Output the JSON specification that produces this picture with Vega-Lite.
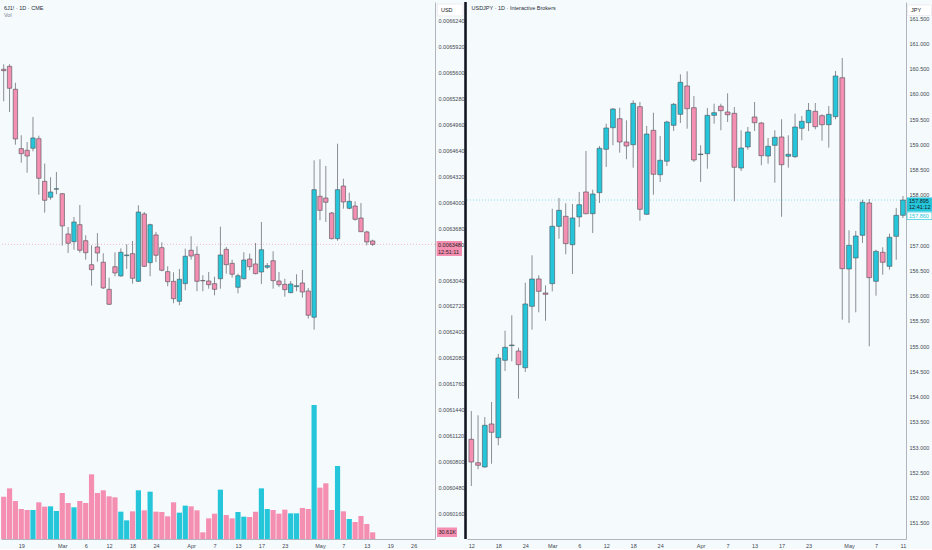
{
  "$schema": "https://vega.github.io/schema/vega-lite/v6.json",
  "background": "#f5fbfd",
  "padding": 0,
  "spacing": 32,
  "bounds": "flush",
  "config": {
    "view": {"stroke": null},
    "font": "Liberation Sans",
    "scale": {"continuousPadding": 0},
    "axis": {"labelFont": "Liberation Sans", "labelColor": "#434651", "domainColor": "#b2b5be", "ticks": false, "grid": false, "labelOverlap": false, "labelFlush": false, "labelBound": false, "tickCount": 100}
  },
  "datasets": {
    "left": [
      {"i":0,"o":0.0065640,"h":0.0065702,"l":0.0065246,"c":0.0065623,"v":194.4},
      {"i":1,"o":0.0065677,"h":0.0065702,"l":0.0065113,"c":0.0065406,"v":232.6},
      {"i":2,"o":0.0065394,"h":0.0065475,"l":0.0064710,"c":0.0064780,"v":174.5},
      {"i":3,"o":0.0064661,"h":0.0064826,"l":0.0064488,"c":0.0064599,"v":137.7},
      {"i":4,"o":0.0064641,"h":0.0064743,"l":0.0064364,"c":0.0064570,"v":133.2},
      {"i":5,"o":0.0064666,"h":0.0065052,"l":0.0064628,"c":0.0064793,"v":133.2},
      {"i":6,"o":0.0064784,"h":0.0064821,"l":0.0064093,"c":0.0064295,"v":168.4},
      {"i":7,"o":0.0064258,"h":0.0064476,"l":0.0063871,"c":0.0064024,"v":148.5},
      {"i":8,"o":0.0064061,"h":0.0064308,"l":0.0064031,"c":0.0064126,"v":150.0},
      {"i":9,"o":0.0064160,"h":0.0064373,"l":0.0064098,"c":0.0064167,"v":128.6},
      {"i":10,"o":0.0064105,"h":0.0064114,"l":0.0063464,"c":0.0063707,"v":211.2},
      {"i":11,"o":0.0063608,"h":0.0063694,"l":0.0063373,"c":0.0063493,"v":165.3},
      {"i":12,"o":0.0063513,"h":0.0063818,"l":0.0063414,"c":0.0063756,"v":145.4},
      {"i":13,"o":0.0063723,"h":0.0063966,"l":0.0063377,"c":0.0063407,"v":174.5},
      {"i":14,"o":0.0063525,"h":0.0063592,"l":0.0063291,"c":0.0063377,"v":165.3},
      {"i":15,"o":0.0063229,"h":0.0063468,"l":0.0062970,"c":0.0063167,"v":296.9},
      {"i":16,"o":0.0063448,"h":0.0063620,"l":0.0063266,"c":0.0063373,"v":211.2},
      {"i":17,"o":0.0063259,"h":0.0063370,"l":0.0062929,"c":0.0062942,"v":223.5},
      {"i":18,"o":0.0062925,"h":0.0063069,"l":0.0062732,"c":0.0062740,"v":195.9},
      {"i":19,"o":0.0063204,"h":0.0063382,"l":0.0063086,"c":0.0063127,"v":191.3},
      {"i":20,"o":0.0063090,"h":0.0063431,"l":0.0063081,"c":0.0063382,"v":125.5},
      {"i":21,"o":0.0063340,"h":0.0063481,"l":0.0063176,"c":0.0063349,"v":85.7},
      {"i":22,"o":0.0063365,"h":0.0063522,"l":0.0062995,"c":0.0063061,"v":127.0},
      {"i":23,"o":0.0063024,"h":0.0063962,"l":0.0063016,"c":0.0063879,"v":223.5},
      {"i":24,"o":0.0063855,"h":0.0063879,"l":0.0063201,"c":0.0063209,"v":131.6},
      {"i":25,"o":0.0063254,"h":0.0063735,"l":0.0063086,"c":0.0063723,"v":217.3},
      {"i":26,"o":0.0063596,"h":0.0063633,"l":0.0063262,"c":0.0063345,"v":125.5},
      {"i":27,"o":0.0063439,"h":0.0063505,"l":0.0063148,"c":0.0063160,"v":124.0},
      {"i":28,"o":0.0063143,"h":0.0063209,"l":0.0062962,"c":0.0063019,"v":104.1},
      {"i":29,"o":0.0063024,"h":0.0063135,"l":0.0062753,"c":0.0062809,"v":168.4},
      {"i":30,"o":0.0062777,"h":0.0063176,"l":0.0062728,"c":0.0063049,"v":120.9},
      {"i":31,"o":0.0062995,"h":0.0063427,"l":0.0062913,"c":0.0063333,"v":153.1},
      {"i":32,"o":0.0063407,"h":0.0063580,"l":0.0063291,"c":0.0063336,"v":150.0},
      {"i":33,"o":0.0063357,"h":0.0063456,"l":0.0062901,"c":0.0063024,"v":131.6},
      {"i":34,"o":0.0063034,"h":0.0063098,"l":0.0062901,"c":0.0063029,"v":30.6},
      {"i":35,"o":0.0063028,"h":0.0063139,"l":0.0062933,"c":0.0062982,"v":94.9},
      {"i":36,"o":0.0062995,"h":0.0063081,"l":0.0062851,"c":0.0062925,"v":116.3},
      {"i":37,"o":0.0063056,"h":0.0063698,"l":0.0062933,"c":0.0063349,"v":226.5},
      {"i":38,"o":0.0063419,"h":0.0063448,"l":0.0063118,"c":0.0063229,"v":110.2},
      {"i":39,"o":0.0063246,"h":0.0063291,"l":0.0063069,"c":0.0063111,"v":94.9},
      {"i":40,"o":0.0062950,"h":0.0063118,"l":0.0062876,"c":0.0063093,"v":124.0},
      {"i":41,"o":0.0063056,"h":0.0063382,"l":0.0063046,"c":0.0063287,"v":102.5},
      {"i":42,"o":0.0063299,"h":0.0063365,"l":0.0063160,"c":0.0063204,"v":101.0},
      {"i":43,"o":0.0063238,"h":0.0063497,"l":0.0063111,"c":0.0063118,"v":125.5},
      {"i":44,"o":0.0063139,"h":0.0063756,"l":0.0062991,"c":0.0063414,"v":232.6},
      {"i":45,"o":0.0063197,"h":0.0063250,"l":0.0063176,"c":0.0063217,"v":137.7},
      {"i":46,"o":0.0063278,"h":0.0063394,"l":0.0062933,"c":0.0063032,"v":133.2},
      {"i":47,"o":0.0063028,"h":0.0063139,"l":0.0062954,"c":0.0062982,"v":116.3},
      {"i":48,"o":0.0062987,"h":0.0063056,"l":0.0062834,"c":0.0062921,"v":134.7},
      {"i":49,"o":0.0062884,"h":0.0063028,"l":0.0062876,"c":0.0062991,"v":117.8},
      {"i":50,"o":0.0062958,"h":0.0063111,"l":0.0062901,"c":0.0062970,"v":117.8},
      {"i":51,"o":0.0063003,"h":0.0063164,"l":0.0062822,"c":0.0062892,"v":142.3},
      {"i":52,"o":0.0062905,"h":0.0062942,"l":0.0062563,"c":0.0062605,"v":137.7},
      {"i":53,"o":0.0062580,"h":0.0064517,"l":0.0062427,"c":0.0064155,"v":615.3},
      {"i":54,"o":0.0064073,"h":0.0064530,"l":0.0063777,"c":0.0063900,"v":235.7},
      {"i":55,"o":0.0064052,"h":0.0064447,"l":0.0063756,"c":0.0063999,"v":255.6},
      {"i":56,"o":0.0063867,"h":0.0063879,"l":0.0063542,"c":0.0063550,"v":133.2},
      {"i":57,"o":0.0063550,"h":0.0064722,"l":0.0063525,"c":0.0064155,"v":335.2},
      {"i":58,"o":0.0064200,"h":0.0064290,"l":0.0063920,"c":0.0064003,"v":127.0},
      {"i":59,"o":0.0063925,"h":0.0064118,"l":0.0063913,"c":0.0064011,"v":91.8},
      {"i":60,"o":0.0063953,"h":0.0064011,"l":0.0063772,"c":0.0063789,"v":78.1},
      {"i":61,"o":0.0063805,"h":0.0063990,"l":0.0063633,"c":0.0063636,"v":105.6},
      {"i":62,"o":0.0063633,"h":0.0063649,"l":0.0063468,"c":0.0063509,"v":68.9},
      {"i":63,"o":0.0063522,"h":0.0063538,"l":0.0063460,"c":0.0063480,"v":30.61}
    ],
    "right": [
      {"i":0,"o":153.158,"h":153.718,"l":152.233,"c":152.708},
      {"i":1,"o":152.694,"h":153.633,"l":152.564,"c":152.643},
      {"i":2,"o":152.609,"h":153.599,"l":152.595,"c":153.435},
      {"i":3,"o":153.461,"h":153.896,"l":152.674,"c":153.296},
      {"i":4,"o":153.189,"h":154.847,"l":153.039,"c":154.767},
      {"i":5,"o":154.722,"h":155.308,"l":154.510,"c":154.979},
      {"i":6,"o":155.013,"h":155.613,"l":154.702,"c":155.025},
      {"i":7,"o":154.906,"h":154.971,"l":153.962,"c":154.635},
      {"i":8,"o":154.575,"h":156.259,"l":154.490,"c":155.837},
      {"i":9,"o":155.791,"h":156.801,"l":155.328,"c":156.332},
      {"i":10,"o":156.332,"h":156.405,"l":155.672,"c":156.088},
      {"i":11,"o":156.055,"h":156.207,"l":155.506,"c":156.029},
      {"i":12,"o":156.239,"h":157.724,"l":156.088,"c":157.375},
      {"i":13,"o":157.375,"h":157.936,"l":157.130,"c":157.692},
      {"i":14,"o":157.573,"h":157.831,"l":156.821,"c":157.031},
      {"i":15,"o":157.011,"h":157.817,"l":156.431,"c":157.540},
      {"i":16,"o":157.560,"h":158.055,"l":157.362,"c":157.803},
      {"i":17,"o":158.055,"h":158.867,"l":157.613,"c":157.625},
      {"i":18,"o":157.625,"h":158.100,"l":157.243,"c":158.015},
      {"i":19,"o":158.041,"h":158.966,"l":157.837,"c":158.920},
      {"i":20,"o":158.900,"h":159.407,"l":158.550,"c":159.322},
      {"i":21,"o":159.328,"h":159.718,"l":158.979,"c":159.698},
      {"i":22,"o":159.506,"h":159.724,"l":158.833,"c":159.045},
      {"i":23,"o":159.045,"h":159.474,"l":158.702,"c":158.966},
      {"i":24,"o":158.991,"h":159.870,"l":158.536,"c":159.811},
      {"i":25,"o":159.744,"h":159.837,"l":157.486,"c":157.712},
      {"i":26,"o":157.613,"h":159.362,"l":157.605,"c":159.203},
      {"i":27,"o":159.276,"h":159.625,"l":158.001,"c":158.405},
      {"i":28,"o":158.397,"h":159.164,"l":158.253,"c":158.682},
      {"i":29,"o":158.663,"h":159.466,"l":158.569,"c":159.441},
      {"i":30,"o":159.375,"h":159.817,"l":159.263,"c":159.791},
      {"i":31,"o":159.593,"h":160.385,"l":159.421,"c":160.227},
      {"i":32,"o":160.154,"h":160.445,"l":159.308,"c":159.704},
      {"i":33,"o":159.724,"h":159.956,"l":158.649,"c":158.688},
      {"i":34,"o":158.795,"h":158.979,"l":158.253,"c":158.807},
      {"i":35,"o":158.813,"h":159.718,"l":158.516,"c":159.573},
      {"i":36,"o":159.573,"h":159.803,"l":159.407,"c":159.625},
      {"i":37,"o":159.752,"h":159.803,"l":159.276,"c":159.665},
      {"i":38,"o":159.639,"h":160.009,"l":159.441,"c":159.585},
      {"i":39,"o":159.613,"h":159.738,"l":157.870,"c":158.544},
      {"i":40,"o":158.530,"h":159.276,"l":158.470,"c":158.926},
      {"i":41,"o":158.946,"h":159.342,"l":158.892,"c":159.243},
      {"i":42,"o":159.540,"h":159.837,"l":159.263,"c":159.427},
      {"i":43,"o":159.421,"h":159.441,"l":158.583,"c":158.773},
      {"i":44,"o":158.767,"h":159.124,"l":158.615,"c":158.960},
      {"i":45,"o":158.979,"h":159.276,"l":158.239,"c":159.138},
      {"i":46,"o":159.144,"h":159.494,"l":157.565,"c":158.595},
      {"i":47,"o":158.762,"h":159.177,"l":158.536,"c":158.801},
      {"i":48,"o":158.754,"h":159.605,"l":158.728,"c":159.342},
      {"i":49,"o":159.316,"h":159.560,"l":159.078,"c":159.455},
      {"i":50,"o":159.427,"h":159.817,"l":159.263,"c":159.672},
      {"i":51,"o":159.653,"h":159.817,"l":159.296,"c":159.348},
      {"i":52,"o":159.566,"h":159.593,"l":159.070,"c":159.387},
      {"i":53,"o":159.387,"h":159.758,"l":158.932,"c":159.593},
      {"i":54,"o":159.546,"h":160.451,"l":159.494,"c":160.352},
      {"i":55,"o":160.318,"h":160.708,"l":155.526,"c":156.536},
      {"i":56,"o":156.530,"h":157.296,"l":155.461,"c":156.999},
      {"i":57,"o":156.748,"h":157.282,"l":155.672,"c":157.183},
      {"i":58,"o":157.197,"h":157.902,"l":157.045,"c":157.851},
      {"i":59,"o":157.837,"h":157.916,"l":154.999,"c":156.358},
      {"i":60,"o":156.286,"h":156.912,"l":156.001,"c":156.880},
      {"i":61,"o":156.861,"h":156.960,"l":156.417,"c":156.663},
      {"i":62,"o":156.583,"h":157.229,"l":156.516,"c":157.158},
      {"i":63,"o":157.177,"h":157.738,"l":156.714,"c":157.593},
      {"i":64,"o":157.593,"h":157.975,"l":157.540,"c":157.895}
    ]
  },
  "hconcat": [
    {
      "width": 434,
      "height": 537,
      "title": {"text": "6J1! · 1D · CME", "subtitle": "Vol", "anchor": "start", "frame": "group", "offset": -16, "dx": 3, "fontSize": 5.5, "fontWeight": "normal", "color": "#2a2e39", "subtitleFontSize": 5.5, "subtitleColor": "#787b86", "subtitlePadding": 1, "font": "Liberation Sans", "subtitleFont": "Liberation Sans"},
      "data": {"name": "left"},
      "layer": [
        {
          "layer": [
            {
              "mark": {"type": "bar", "size": 5.2},
              "encoding": {
                "x": {"field": "i", "type": "quantitative",
                  "scale": {"domain": [-0.46, 73.64], "nice": false, "zero": false, "padding": 0},
                  "axis": {"title": null, "tickCount": 100, "values": [3,10,14,18,22,26,32,36,40,44,48,54,58,62,66,70],
                    "labelExpr": "{'3':'19','10':'Mar','14':'6','18':'12','22':'18','26':'24','32':'Apr','36':'7','40':'13','44':'17','48':'23','54':'May','58':'7','62':'13','66':'19','70':'26'}[datum.value]",
                    "labelFontSize": 5.5, "labelPadding": 4, "labelFlush": false, "labelOverlap": false}},
                "y": {"field": "v", "type": "quantitative", "scale": {"domain": [0, 2465], "nice": false}, "axis": null},
                "color": {"condition": {"test": "datum.c >= datum.o", "value": "#26c6da"}, "value": "#f48fb1"}
              }
            },
            {
              "data": {"values": [{}]},
              "mark": {"type": "rect", "fill": "#f48fb1"},
              "encoding": {
                "x": {"datum": 73.98}, "x2": {"datum": 77.4},
                "y": {"datum": 9.2, "axis": null}, "y2": {"datum": 52.8}
              }
            },
            {
              "data": {"values": [{}]},
              "mark": {"type": "text", "align": "left", "baseline": "middle", "fontSize": 5.5, "color": "#1e1e24", "text": "30.61K"},
              "encoding": {
                "x": {"datum": 74.23},
                "y": {"datum": 30.61, "axis": null}
              }
            }
          ]
        },
        {
          "layer": [
            {
              "data": {"values": [{}]},
              "mark": {"type": "rule", "color": "#f48fb1", "strokeDash": [1, 2], "opacity": 0.6},
              "encoding": {"y": {"datum": 0.006348}}
            },
            {
              "mark": {"type": "rule", "color": "#8a8d94", "strokeWidth": 1},
              "encoding": {
                "x": {"field": "i", "type": "quantitative"},
                "y": {"field": "l", "type": "quantitative",
                  "scale": {"domain": [0.00598437, 0.00664708], "nice": false, "zero": false},
                  "axis": {"title": null, "tickCount": 100, "orient": "right", "format": ".7f", "labelFontSize": 5.5, "labelPadding": 3, "labelOverlap": false, "labelFlush": false,
                    "values": [0.006016,0.006048,0.00608,0.006112,0.006144,0.006176,0.006208,0.00624,0.006272,0.006304,0.006368,0.0064,0.006432,0.006464,0.006496,0.006528,0.00656,0.006592,0.006624]}},
                "y2": {"field": "h"}
              }
            },
            {
              "mark": {"type": "bar", "size": 4.4, "stroke": "#4d4f57", "strokeWidth": 0.6},
              "encoding": {
                "x": {"field": "i", "type": "quantitative"},
                "y": {"field": "o", "type": "quantitative"},
                "y2": {"field": "c"},
                "fill": {"condition": {"test": "datum.c >= datum.o", "value": "#26c6da"}, "value": "#f48fb1"}
              }
            },
            {
              "data": {"values": [{}]},
              "mark": {"type": "rect", "fill": "#ffffff", "stroke": "#e0e3eb", "strokeWidth": 0.6},
              "encoding": {
                "x": {"datum": 74.06}, "x2": {"datum": 78.42},
                "y": {"datum": 0.0066298}, "y2": {"datum": 0.0066446}
              }
            },
            {
              "data": {"values": [{}]},
              "mark": {"type": "text", "align": "left", "baseline": "middle", "fontSize": 5.5, "color": "#131722", "text": "USD"},
              "encoding": {
                "x": {"datum": 74.66},
                "y": {"datum": 0.0066372}
              }
            },
            {
              "data": {"values": [{}]},
              "mark": {"type": "rect", "fill": "#f48fb1"},
              "encoding": {
                "x": {"datum": 73.9}, "x2": {"datum": 78.25},
                "y": {"datum": 0.0063336}, "y2": {"datum": 0.0063521}
              }
            },
            {
              "data": {"values": [{"t": "0.0063480", "p": 0.0063472}, {"t": "12:51:11", "p": 0.0063388}]},
              "mark": {"type": "text", "align": "left", "baseline": "middle", "fontSize": 5.5, "color": "#1e1e24"},
              "encoding": {
                "x": {"datum": 74.15},
                "y": {"field": "p", "type": "quantitative"},
                "text": {"field": "t"}
              }
            }
          ]
        }
      ],
      "resolve": {"scale": {"y": "independent"}}
    },
    {
      "width": 439,
      "height": 537,
      "title": {"text": "USDJPY · 1D · Interactive Brokers", "anchor": "start", "frame": "group", "offset": -11, "dx": 4.5, "fontSize": 5.5, "fontWeight": "normal", "color": "#2a2e39", "font": "Liberation Sans"},
      "data": {"name": "right"},
      "layer": [
        {
          "data": {"values": [{}]},
          "mark": {"type": "rule", "color": "#26c6da", "strokeDash": [1, 2], "opacity": 0.5},
          "encoding": {"y": {"datum": 157.895}}
        },
        {
          "mark": {"type": "rule", "color": "#8a8d94", "strokeWidth": 1},
          "encoding": {
            "x": {"field": "i", "type": "quantitative",
              "scale": {"domain": [-0.64, 64.45], "nice": false, "zero": false, "padding": 0},
              "axis": {"title": null, "tickCount": 100, "values": [0,4,8,12,16,20,24,28,34,38,42,46,50,56,60,64],
                "labelExpr": "{'0':'12','4':'18','8':'24','12':'Mar','16':'6','20':'12','24':'18','28':'24','34':'Apr','38':'7','42':'13','46':'17','50':'23','56':'May','60':'7','64':'11'}[datum.value]",
                "labelFontSize": 5.5, "labelPadding": 4, "labelFlush": false, "labelOverlap": false}},
            "y": {"field": "l", "type": "quantitative",
              "scale": {"domain": [151.183, 161.817], "nice": false, "zero": false},
              "axis": {"title": null, "tickCount": 100, "orient": "right", "format": ".3f", "labelFontSize": 5.5, "labelPadding": 3, "labelOverlap": false, "labelFlush": false,
                "values": [151.5,152,152.5,153,153.5,154,154.5,155,155.5,156,156.5,157,158,158.5,159,159.5,160,160.5,161,161.5]}},
            "y2": {"field": "h"}
          }
        },
        {
          "mark": {"type": "bar", "size": 4.8, "stroke": "#4d4f57", "strokeWidth": 0.6},
          "encoding": {
            "x": {"field": "i", "type": "quantitative"},
            "y": {"field": "o", "type": "quantitative"},
            "y2": {"field": "c"},
            "fill": {"condition": {"test": "datum.c >= datum.o", "value": "#26c6da"}, "value": "#f48fb1"}
          }
        },
        {
          "data": {"values": [{}]},
          "mark": {"type": "rule", "color": "#131722", "strokeWidth": 2.6},
          "encoding": {"x": {"datum": -0.86}}
        },
        {
          "data": {"values": [{}]},
          "mark": {"type": "rect", "fill": "#ffffff", "stroke": "#e0e3eb", "strokeWidth": 0.6},
          "encoding": {
            "x": {"datum": 64.67}, "x2": {"datum": 68.23},
            "y": {"datum": 161.55}, "y2": {"datum": 161.758}
          }
        },
        {
          "data": {"values": [{}]},
          "mark": {"type": "text", "align": "left", "baseline": "middle", "fontSize": 5.5, "color": "#131722", "text": "JPY"},
          "encoding": {
            "x": {"datum": 65.19},
            "y": {"datum": 161.659}
          }
        },
        {
          "data": {"values": [{}]},
          "mark": {"type": "rect", "fill": "#26c6da"},
          "encoding": {
            "x": {"datum": 64.6}, "x2": {"datum": 68.3},
            "y": {"datum": 157.668}, "y2": {"datum": 157.946}
          }
        },
        {
          "data": {"values": [{}]},
          "mark": {"type": "rect", "fill": "#ffffff", "stroke": "#26c6da", "strokeWidth": 0.7},
          "encoding": {
            "x": {"datum": 64.6}, "x2": {"datum": 68.3},
            "y": {"datum": 157.51}, "y2": {"datum": 157.658}
          }
        },
        {
          "data": {"values": [{"t": "157.895", "p": 157.88, "k": "a"}, {"t": "12:41:12", "p": 157.755, "k": "a"}, {"t": "157.860", "p": 157.583, "k": "b"}]},
          "mark": {"type": "text", "align": "left", "baseline": "middle", "fontSize": 5.5},
          "encoding": {
            "x": {"datum": 64.9},
            "y": {"field": "p", "type": "quantitative"},
            "text": {"field": "t"},
            "color": {"condition": {"test": "datum.k == 'b'", "value": "#26c6da"}, "value": "#131722"}
          }
        }
      ]
    }
  ]
}
